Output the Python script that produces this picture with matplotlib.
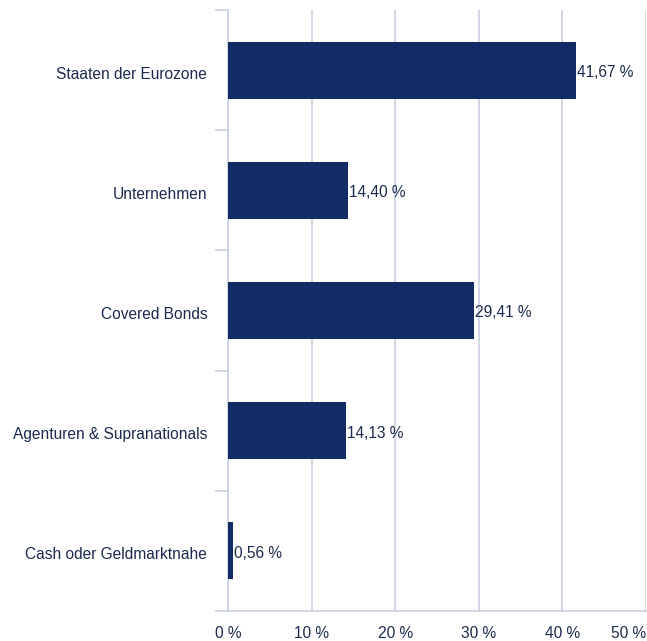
import numpy as np
import matplotlib.pyplot as plt

categories = ['Staaten der Eurozone', 'Unternehmen', 'Covered Bonds',
              'Agenturen & Supranationals', 'Cash oder Geldmarktnahe']
values = [41.67, 14.40, 29.41, 14.13, 0.56]
xticks = [0, 10, 20, 30, 40, 50]

bar_color = '#122d65'
text_color = '#1b2a4e'
grid_color = '#c9d1e1'
fs = 11.2

plt.rcParams['font.family'] = ['Liberation Sans', 'DejaVu Sans']

dpi = 100
fig = plt.figure(figsize=(647/dpi, 641/dpi), dpi=dpi)
ax = fig.add_axes([228/647, 1 - 611/641, (646 - 228)/647, (611 - 10)/641])

y = np.arange(len(categories))
ax.barh(y, values, height=0.475, color=bar_color, zorder=3)
ax.set_ylim(len(categories) - 0.5, -0.5)
ax.set_xlim(0, 50)

for yi, v in zip(y, values):
    ax.text(v + 0.1, yi + 0.02, '{:.2f} %'.format(v).replace('.', ','),
            va='center', ha='left', fontsize=fs, color=text_color, zorder=4)

# axis styling
for s in ['top', 'right']:
    ax.spines[s].set_visible(False)
for s in ['left', 'bottom']:
    ax.spines[s].set_color(grid_color)
    ax.spines[s].set_linewidth(1.2)

ax.set_yticks(y + 0.02)
ax.set_yticklabels(categories, fontsize=fs, color=text_color)
ax.tick_params(axis='y', which='major', length=0, pad=15)
ax.set_yticks(np.arange(-0.5, len(categories)), minor=True)
ax.tick_params(axis='y', which='minor', length=9.5, width=1.2, color=grid_color)

ax.set_xticks(xticks)
ax.set_xticklabels(['{} %'.format(t) for t in xticks], fontsize=fs, color=text_color)
ax.tick_params(axis='x', length=0, pad=11)
ax.get_xticklabels()[-1].set_horizontalalignment('right')

ax.grid(axis='x', color=grid_color, linewidth=1.2, zorder=0)
ax.set_axisbelow(True)

plt.savefig('out.png', dpi=dpi)
